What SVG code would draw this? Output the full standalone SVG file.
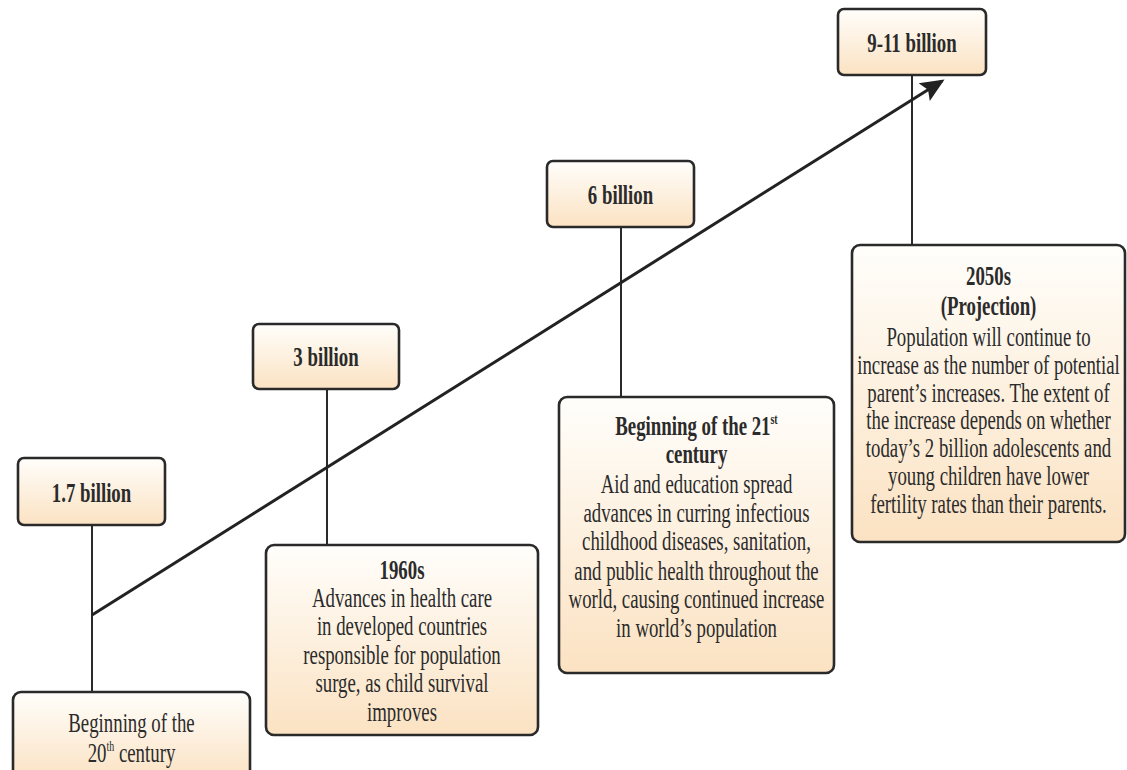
<svg xmlns="http://www.w3.org/2000/svg" width="1127" height="770" viewBox="0 0 1127 770">
<defs>
<linearGradient id="peach" x1="0" y1="0" x2="0" y2="1">
<stop offset="0" stop-color="#fffefb"/>
<stop offset="1" stop-color="#fbe2c2"/>
</linearGradient>
<marker id="ah" markerWidth="8" markerHeight="8" refX="7" refY="4" orient="auto" markerUnits="strokeWidth">
<path d="M0,0.5 L8,4 L0,7.5 L1.5,4 Z" fill="#222"/>
</marker>
<style>
.box{fill:url(#peach);stroke:#2a2a2a;stroke-width:2.6}
.t{font-family:"Liberation Serif","Times New Roman",serif;font-size:26.5px;fill:#2b2b2b;text-anchor:middle}
.b{font-weight:bold}
.sup{font-size:14px}
.conn{stroke:#2a2a2a;stroke-width:2;fill:none}
.arrow{stroke:#222;stroke-width:3;fill:none}
</style>
</defs>
<rect width="1127" height="770" fill="#ffffff"/>

<g id="connectors">
<line class="conn" x1="92" y1="525" x2="92" y2="692"/>
<line class="conn" x1="327" y1="389" x2="327" y2="545"/>
<line class="conn" x1="621" y1="227" x2="621" y2="397"/>
<line class="conn" x1="912" y1="75" x2="912" y2="245"/>
<line class="arrow" x1="92" y1="615" x2="942" y2="81" marker-end="url(#ah)"/>
</g>

<g id="n17">
<rect class="box" x="18" y="458" width="147" height="67" rx="6"/>
<g transform="translate(91.5,0) scale(0.71,1)"><text class="t b" x="0" y="502">1.7 billion</text></g>
</g>

<g id="n3">
<rect class="box" x="253" y="324" width="146" height="65" rx="6"/>
<g transform="translate(326,0) scale(0.71,1)"><text class="t b" x="0" y="366">3 billion</text></g>
</g>

<g id="n6">
<rect class="box" x="547" y="161" width="147" height="66" rx="6"/>
<g transform="translate(620.5,0) scale(0.71,1)"><text class="t b" x="0" y="204">6 billion</text></g>
</g>

<g id="n911">
<rect class="box" x="838" y="9" width="148" height="66" rx="6"/>
<g transform="translate(912,0) scale(0.71,1)"><text class="t b" x="0" y="52">9-11 billion</text></g>
</g>

<g id="n20th">
<rect class="box" x="13" y="692" width="237" height="90" rx="8"/>
<g transform="translate(131.5,0) scale(0.71,1)">
<text class="t" x="0" y="732">Beginning of the</text>
<text class="t" x="0" y="762">20<tspan class="sup" dy="-11">th</tspan><tspan dy="11"> century</tspan></text>
</g>
</g>

<g id="n1960s">
<rect class="box" x="266" y="545" width="272" height="190" rx="8"/>
<g transform="translate(402,0) scale(0.71,1)">
<text class="t b" x="0" y="579">1960s</text>
<text class="t" x="0" y="607">Advances in health care</text>
<text class="t" x="0" y="635">in developed countries</text>
<text class="t" x="0" y="664">responsible for population</text>
<text class="t" x="0" y="692">surge, as child survival</text>
<text class="t" x="0" y="721">improves</text>
</g>
</g>

<g id="n21st">
<rect class="box" x="559" y="397" width="275" height="276" rx="8"/>
<g transform="translate(696.5,0) scale(0.71,1)">
<text class="t b" x="0" y="435">Beginning of the 21<tspan class="sup" dy="-11">st</tspan></text>
<text class="t b" x="0" y="463">century</text>
<text class="t" x="0" y="493">Aid and education spread</text>
<text class="t" x="0" y="522">advances in curring infectious</text>
<text class="t" x="0" y="550">childhood diseases, sanitation,</text>
<text class="t" x="0" y="580">and public health throughout the</text>
<text class="t" x="0" y="608">world, causing continued increase</text>
<text class="t" x="0" y="637">in world’s population</text>
</g>
</g>

<g id="n2050s">
<rect class="box" x="852" y="245" width="273" height="297" rx="8"/>
<g transform="translate(988.5,0) scale(0.71,1)">
<text class="t b" x="0" y="285">2050s</text>
<text class="t b" x="0" y="315">(Projection)</text>
<text class="t" x="0" y="346">Population will continue to</text>
<text class="t" x="0" y="374">increase as the number of potential</text>
<text class="t" x="0" y="402">parent’s increases. The extent of</text>
<text class="t" x="0" y="429">the increase depends on whether</text>
<text class="t" x="0" y="457">today’s 2 billion adolescents and</text>
<text class="t" x="0" y="485">young children have lower</text>
<text class="t" x="0" y="513">fertility rates than their parents.</text>
</g>
</g>
</svg>
